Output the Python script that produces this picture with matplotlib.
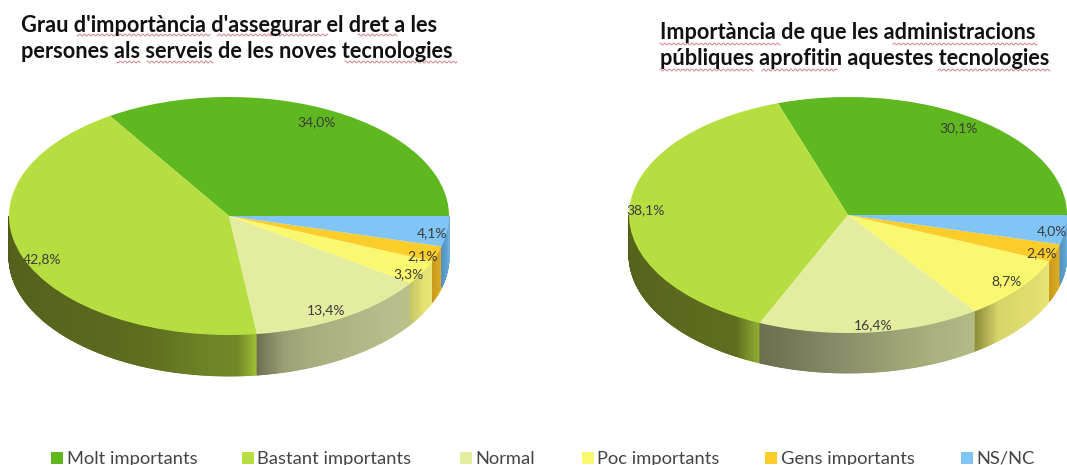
import numpy as np
import matplotlib
matplotlib.use("Agg")
import matplotlib.pyplot as plt
from matplotlib.collections import PolyCollection
from matplotlib.colors import to_rgb

W, H = 1067, 465

categories = ["Molt importants", "Bastant importants", "Normal", "Poc importants", "Gens importants", "NS/NC"]
values_left = [34.0, 42.8, 13.4, 3.3, 2.1, 4.1]
values_right = [30.1, 38.1, 16.4, 8.7, 2.4, 4.0]
labels_left = ["34,0%", "42,8%", "13,4%", "3,3%", "2,1%", "4,1%"]
labels_right = ["30,1%", "38,1%", "16,4%", "8,7%", "2,4%", "4,0%"]
title_left = ["Grau d'importància d'assegurar el dret a les", "persones als serveis de les noves tecnologies"]
title_right = ["Importància de que les administracions", "públiques aprofitin aquestes tecnologies"]

colors = ["#5fb81f", "#b7de41", "#e3ec9f", "#f9f86e", "#fbcd2b", "#80c5f6"]
# side wall colours, left to right along the visible arc
walls_left = [
    ["#5fb81f", "#5fb81f"],
    ["#4f5a1a", "#525e1b", "#55611c", "#55621c", "#56631c", "#56631c", "#57641c", "#58651d", "#58661d", "#59671d",
     "#5a681e", "#5b691e", "#5c6b1e", "#5e6e1f", "#617220", "#667a23", "#6c8026", "#6f8428", "#728828", "#a0c232"],
    ["#6d6e52", "#9b9e74", "#a8ab7e", "#adb182", "#b2b686", "#b6ba88", "#b9be8a", "#bcc18a"],
    ["#c5c568", "#e2e272", "#e6e577"],
    ["#c99a1c", "#e0ae24"],
    ["#4f94c4", "#6fb2e0"],
]
walls_right = [
    ["#5fb81f", "#5fb81f"],
    ["#4f5a1a", "#535f1b", "#55621c", "#56631c", "#56631c", "#57641c", "#58651d", "#58651d", "#59661d", "#5a671d",
     "#5a681d", "#5b681e", "#5c6a1e", "#5c6a1e", "#5d6b1e", "#5e6c1f", "#5e6c1f", "#5f6d1f", "#78902a", "#93b030"],
    ["#6d6f50", "#747655", "#7f8260", "#8a8d68", "#95986f", "#9fa376", "#a8ad7c", "#afb581", "#b5bb85"],
    ["#8e8d3c", "#d6d66a", "#dcdb6c", "#e0df6e", "#e6e577"],
    ["#c99a1c", "#e0ae24"],
    ["#4f94c4", "#6fb2e0"],
]

plt.rcParams["font.family"] = ["Lato", "DejaVu Sans"]
fig = plt.figure(figsize=(W / 100, H / 100), dpi=100)

# pixel space axes for walls and text
back = fig.add_axes([0, 0, 1, 1], zorder=1)
back.set_xlim(0, W)
back.set_ylim(H, 0)
back.axis("off")
over = fig.add_axes([0, 0, 1, 1], zorder=3)
over.set_xlim(0, W)
over.set_ylim(H, 0)
over.axis("off")
over.patch.set_alpha(0)


def wall(cx, cy, rx, ry, depth, values, wall_colors):
    edges = np.cumsum([0] + values) / sum(values) * 360
    for i in range(len(values)):
        a0 = max(edges[i], 180)
        a1 = min(edges[i + 1], 360)
        if a1 <= a0:
            continue
        ang = np.linspace(a0, a1, max(int((a1 - a0) * 4), 2))
        x = cx + rx * np.cos(np.radians(ang))
        y = cy - ry * np.sin(np.radians(ang))
        stops = np.array([to_rgb(c) for c in wall_colors[i]])
        pos = np.linspace(0, 1, len(stops))
        t = (ang[:-1] - a0) / (a1 - a0)
        rgb = np.column_stack([np.interp(t, pos, stops[:, k]) for k in range(3)])
        polys = [[(x[j], y[j]), (x[j + 1], y[j + 1]), (x[j + 1], y[j + 1] + depth), (x[j], y[j] + depth)]
                 for j in range(len(ang) - 1)]
        back.add_collection(PolyCollection(polys, facecolors=rgb, edgecolors=rgb, linewidths=0.6))


def top(cx, cy, rx, ry, values):
    ax = fig.add_axes([(cx - rx) / W, 1 - (cy + ry) / H, 2 * rx / W, 2 * ry / H], zorder=2)
    ax.pie(values, colors=colors, startangle=0, counterclock=True, radius=1)
    ax.set_aspect("auto")
    ax.set_xlim(-1, 1)
    ax.set_ylim(-1, 1)


def squiggle(x0, x1, y):
    x = np.arange(x0, x1 + 0.5, 0.5)
    over.plot(x, y + 1.0 * np.sin(x * 2 * np.pi / 4.5), color="#c4505a", lw=0.6, alpha=0.8)


# left pie
wall(229, 216, 220, 119, 41, values_left, walls_left)
top(229, 216, 220, 119, values_left)
pos_left = [(317, 122), (42, 259), (326, 310), (409, 274), (423, 256), (432, 233)]
for (x, y), s in zip(pos_left, labels_left):
    over.text(x, y, s, fontsize=10, color="#3c3c3c", ha="center", va="center")

# right pie
wall(848, 215, 219, 118, 40, values_right, walls_right)
top(848, 215, 219, 118, values_right)
pos_right = [(959, 128), (646, 210), (873, 325), (1006, 281), (1042, 253), (1052, 231)]
for (x, y), s in zip(pos_right, labels_right):
    over.text(x, y, s, fontsize=10, color="#3c3c3c", ha="center", va="center")

# titles
for s, y in zip(title_left, [32, 58]):
    over.text(21, y, s, fontsize=15.7, fontweight="bold", color="#111111", va="baseline", ha="left")
for s, y in zip(title_right, [39, 65]):
    over.text(660, y, s, fontsize=15.6, fontweight="bold", color="#111111", va="baseline", ha="left")

for x0, x1, y in [(77, 210, 35), (217, 328, 35), (358, 397, 35), (117, 140, 62), (147, 213, 62), (345, 457, 62),
                  (660, 780, 44), (893, 1037, 44), (660, 753, 70), (762, 837, 70), (938, 1050, 70)]:
    squiggle(x0, x1, y)

# legend
leg_sq = [56.5, 247.5, 465.5, 587.5, 771, 966.5]
leg_tx = [67, 257, 475, 597, 781, 976]
for sx, tx, name, c in zip(leg_sq, leg_tx, categories, colors):
    over.scatter([sx], [457.5], marker="s", s=63, color=c, linewidths=0)
    over.text(tx, 463.5, name, fontsize=13.2, color="#444444", va="baseline", ha="left")

fig.savefig("out.png", dpi=100)
